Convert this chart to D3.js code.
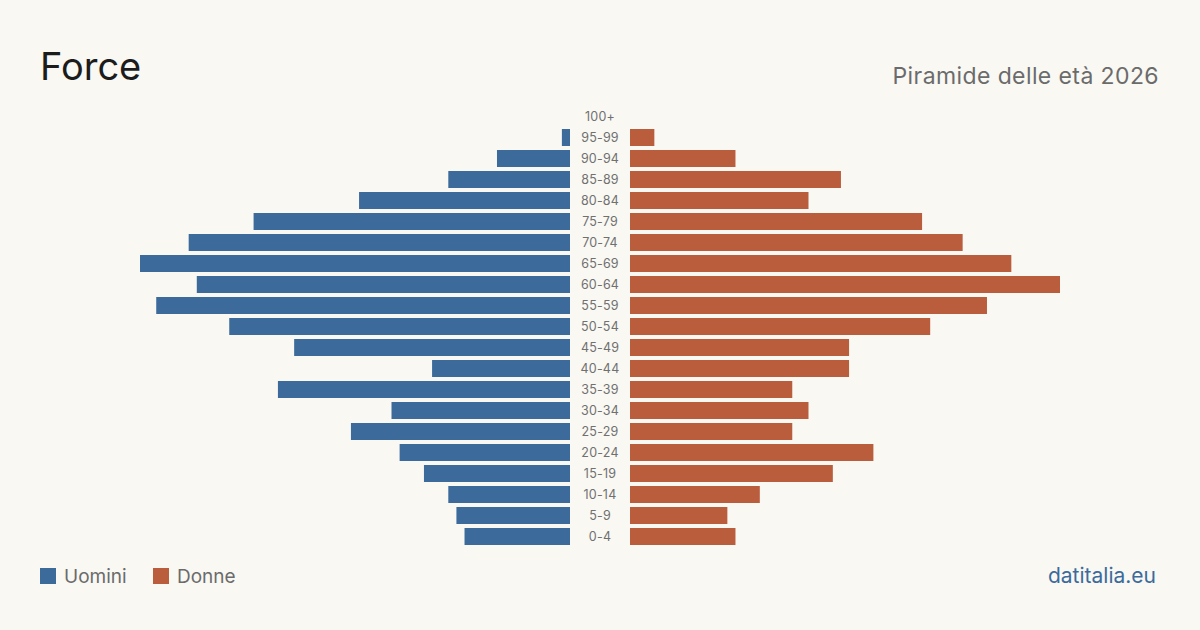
<!DOCTYPE html>
<html>
<head>
<meta charset="utf-8">
<script src="https://cdn.jsdelivr.net/npm/d3@7"></script>
<style>
  html, body { margin: 0; padding: 0; background: #f9f8f3; }
  svg { display: block; font-family: Inter, "Noto Sans", sans-serif; }
</style>
</head>
<body>
<svg></svg>
<script>
const [svgWidth, svgHeight] = [1200, 630];

const ageGroups = ['100+', '95-99', '90-94', '85-89', '80-84', '75-79', '70-74', '65-69', '60-64',
  '55-59', '50-54', '45-49', '40-44', '35-39', '30-34', '25-29', '20-24', '15-19', '10-14', '5-9', '0-4'];
const men = [0, 1, 9, 15, 26, 39, 47, 53, 46, 51, 42, 34, 17, 36, 22, 27, 21, 18, 15, 14, 13];
const women = [0, 3, 13, 26, 22, 36, 41, 47, 53, 44, 37, 27, 27, 20, 22, 20, 30, 25, 16, 12, 13];

const menColor = '#3c6b9b';
const womenColor = '#b95d3d';

const svg = d3.select('svg')
  .attr('width', svgWidth)
  .attr('height', svgHeight);

svg.append('rect')
  .attr('width', svgWidth)
  .attr('height', svgHeight)
  .attr('fill', '#f9f8f3');

const y = d3.scaleBand()
  .domain(ageGroups)
  .range([106, 547])
  .paddingInner(4 / 21)
  .paddingOuter(2 / 21);

const maxVal = d3.max([...men, ...women]);
const x = d3.scaleLinear()
  .domain([0, maxVal])
  .range([0, 430]);

const [leftEdge, rightEdge] = [570, 630];

const rows = ageGroups.map((d, i) => ({ age: d, m: men[i], w: women[i] }));

svg.append('g').selectAll('rect')
  .data(rows.filter(d => d.m > 0))
  .enter()
  .append('rect')
  .attr('x', d => leftEdge - x(d.m))
  .attr('y', d => y(d.age))
  .attr('width', d => x(d.m))
  .attr('height', y.bandwidth())
  .attr('fill', menColor);

svg.append('g').selectAll('rect')
  .data(rows.filter(d => d.w > 0))
  .enter()
  .append('rect')
  .attr('x', rightEdge)
  .attr('y', d => y(d.age))
  .attr('width', d => x(d.w))
  .attr('height', y.bandwidth())
  .attr('fill', womenColor);

svg.append('g').selectAll('text')
  .data(ageGroups)
  .enter()
  .append('text')
  .attr('x', (leftEdge + rightEdge) / 2)
  .attr('y', d => y(d) + y.bandwidth() / 2)
  .attr('text-anchor', 'middle')
  .attr('dominant-baseline', 'central')
  .attr('font-size', 12.5)
  .attr('letter-spacing', 0.2)
  .attr('fill', '#707070')
  .text(d => d);

// titles
svg.append('text')
  .attr('x', 40)
  .attr('y', 80)
  .attr('font-size', 38)
  .attr('fill', '#1c1c1c')
  .text('Force');

svg.append('text')
  .attr('x', 1159)
  .attr('y', 84)
  .attr('text-anchor', 'end')
  .attr('font-size', 23)
  .attr('letter-spacing', 0.4)
  .attr('fill', '#6b6b6b')
  .text('Piramide delle età 2026');

// legend
const legend = svg.append('g')
  .attr('transform', 'translate(40, 568)');
const items = [{ text: 'Uomini', color: menColor, x: 0 }, { text: 'Donne', color: womenColor, x: 113 }];
const li = legend.selectAll('g')
  .data(items)
  .enter()
  .append('g')
  .attr('transform', d => `translate(${d.x}, 0)`);
li.append('rect')
  .attr('width', 16)
  .attr('height', 16)
  .attr('fill', d => d.color);
li.append('text')
  .attr('x', 24)
  .attr('y', 15)
  .attr('font-size', 19)
  .attr('fill', '#6b6b6b')
  .text(d => d.text);

svg.append('text')
  .attr('x', 1156)
  .attr('y', 583)
  .attr('text-anchor', 'end')
  .attr('font-size', 21)
  .attr('fill', '#3c6b9b')
  .text('datitalia.eu');
</script>
</body>
</html>
